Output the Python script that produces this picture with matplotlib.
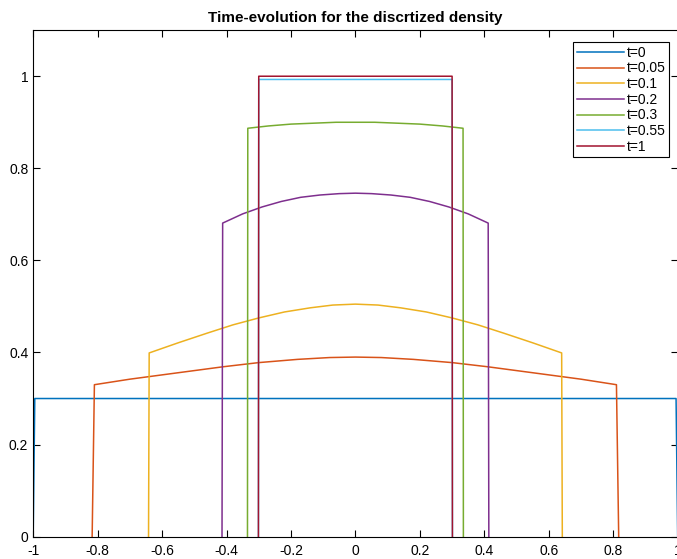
import matplotlib.pyplot as plt

plt.rcParams['font.family'] = ['Liberation Sans', 'DejaVu Sans']

labels = ['t=0', 't=0.05', 't=0.1', 't=0.2', 't=0.3', 't=0.55', 't=1']
colors = ['#0072BD', '#D95319', '#EDB120', '#7E2F8E', '#77AC30', '#4DBEEE', '#A2142F']

# points, one list pair per time
x_t0 = [-1.0, -0.995, 0.995, 1.0]
y_t0 = [0.0, 0.30, 0.30, 0.0]

x_t005 = [-0.817, -0.81, -0.70, -0.55, -0.41, -0.30, -0.18, -0.08, 0.0,
          0.08, 0.18, 0.30, 0.41, 0.55, 0.70, 0.81, 0.817]
y_t005 = [0.0, 0.330, 0.342, 0.356, 0.369, 0.378, 0.385, 0.389, 0.390,
          0.389, 0.385, 0.378, 0.369, 0.356, 0.342, 0.330, 0.0]

x_t01 = [-0.642, -0.64, -0.55, -0.46, -0.38, -0.30, -0.22, -0.14, -0.07, 0.0,
         0.07, 0.14, 0.22, 0.30, 0.38, 0.46, 0.55, 0.64, 0.642]
y_t01 = [0.0, 0.399, 0.421, 0.442, 0.460, 0.475, 0.488, 0.497, 0.503, 0.505,
         0.503, 0.497, 0.488, 0.475, 0.460, 0.442, 0.421, 0.399, 0.0]

x_t02 = [-0.414, -0.412, -0.35, -0.29, -0.23, -0.17, -0.11, -0.05, 0.0,
         0.05, 0.11, 0.17, 0.23, 0.29, 0.35, 0.412, 0.414]
y_t02 = [0.0, 0.681, 0.701, 0.716, 0.728, 0.737, 0.742, 0.745, 0.746,
         0.745, 0.742, 0.737, 0.728, 0.716, 0.701, 0.681, 0.0]

x_t03 = [-0.335, -0.334, -0.27, -0.20, -0.13, -0.06, 0.0,
         0.06, 0.13, 0.20, 0.27, 0.334, 0.335]
y_t03 = [0.0, 0.887, 0.892, 0.896, 0.898, 0.900, 0.900,
         0.900, 0.898, 0.896, 0.892, 0.887, 0.0]

x_t055 = [-0.301, -0.30, 0.30, 0.301]
y_t055 = [0.0, 0.993, 0.993, 0.0]

x_t1 = [-0.301, -0.30, 0.30, 0.301]
y_t1 = [0.0, 1.0, 1.0, 0.0]

xs = [x_t0, x_t005, x_t01, x_t02, x_t03, x_t055, x_t1]
ys = [y_t0, y_t005, y_t01, y_t02, y_t03, y_t055, y_t1]

fig = plt.figure(figsize=(6.77, 5.59), dpi=100)
ax = fig.add_axes([0.049, 0.04, 0.952, 0.906])

for x, y, c, lab in zip(xs, ys, colors, labels):
    ax.plot(x, y, color=c, linewidth=1.1, label=lab)

ax.set_xlim(-1, 1)
ax.set_ylim(0, 1.1)
ax.set_xticks([-1, -0.8, -0.6, -0.4, -0.2, 0, 0.2, 0.4, 0.6, 0.8, 1])
ax.set_xticklabels(['-1', '-0.8', '-0.6', '-0.4', '-0.2', '0', '0.2', '0.4', '0.6', '0.8', '1'])
ax.set_yticks([0, 0.2, 0.4, 0.6, 0.8, 1])
ax.set_yticklabels(['0', '0.2', '0.4', '0.6', '0.8', '1'])
ax.tick_params(direction='in', length=5, width=0.8, labelsize=10, top=True, right=True)
ax.tick_params(axis='x', pad=5)
for s in ax.spines.values():
    s.set_linewidth(0.8)

ax.set_title('Time-evolution for the discrtized density', fontsize=11, fontweight='bold', pad=6)

leg = ax.legend(loc='upper right', bbox_to_anchor=(0.987, 0.976), fontsize=10,
                handlelength=3.4, handletextpad=0.2, labelspacing=0.12,
                borderpad=0.25, borderaxespad=0.0, fancybox=False, framealpha=1,
                edgecolor='black')
leg.get_frame().set_linewidth(0.8)

plt.savefig('out.png', dpi=100)
